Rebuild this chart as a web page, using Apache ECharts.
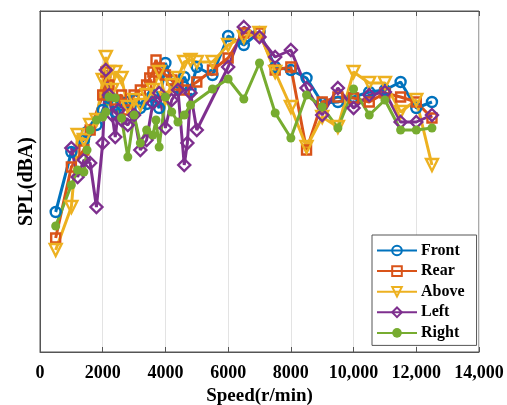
<!DOCTYPE html>
<html>
<head>
<meta charset="utf-8">
<script src="https://cdn.jsdelivr.net/npm/echarts@6/dist/echarts.min.js"></script>
<style>html,body{margin:0;padding:0;background:#fff}#c{width:507px;height:405px}</style>
</head>
<body>
<div id="c"></div>
<script>
// Data (speed in r/min, SPL in dBA)
const seriesNames = ['Front', 'Rear', 'Above', 'Left', 'Right'];
const xTicks = [0, 2000, 4000, 6000, 8000, 10000, 12000, 14000];

const speedFront = [500,1000,1400,1500,1800,2000,2200,2400,2600,2800,3000,3200,3400,3600,3800,4000,4200,4400,4600,4800,5000,5500,6000,6500,7000,7500,8000,8500,9000,9500,10000,10500,11000,11500,12000,12500];
const splFront   = [58.0,70.0,72.4,74.0,75.4,78.4,80.8,78.0,79.4,80.0,80.4,78.8,79.6,81.4,78.8,87.8,84.4,82.8,85.0,82.4,87.0,85.4,93.2,91.4,94.0,87.0,86.4,84.8,79.8,80.0,81.0,82.0,82.4,84.0,78.8,80.0];

const speedRear = [500,1000,1400,1600,2000,2100,2200,2400,2600,2800,3000,3200,3400,3500,3600,3700,3800,4000,4200,4400,4600,5000,5500,6000,6500,7000,7500,8000,8500,9000,9500,10000,10500,11000,11500,12000,12500];
const splRear   = [52.8,67.0,70.4,74.4,81.4,86.0,83.4,80.4,81.4,78.4,81.4,82.4,83.4,84.8,86.0,88.4,86.8,85.4,84.4,83.4,82.4,84.0,86.4,88.8,93.8,93.8,86.4,87.0,70.4,80.0,81.0,80.8,80.0,81.8,81.0,80.0,76.8];

const speedAbove = [500,1000,1200,1400,1600,1800,2000,2100,2200,2300,2400,2600,2800,3000,3200,3400,3600,3800,4000,4200,4400,4600,4800,5000,5500,6000,6500,7000,7500,8000,8500,9000,9500,10000,10500,11000,11500,12000,12500];
const splAbove   = [50.4,59.0,73.4,72.4,75.4,76.4,84.4,89.0,86.0,82.4,86.0,84.8,79.0,80.4,79.4,81.4,82.4,86.0,80.8,83.4,84.8,88.0,88.4,88.0,88.0,91.4,93.0,93.8,86.0,79.0,71.0,77.0,75.0,86.0,83.8,83.8,78.0,80.4,67.4];

const speedLeft = [1000,1200,1400,1600,1800,2000,2100,2200,2300,2400,2500,2600,2800,3000,3200,3400,3600,3800,4000,4200,4400,4600,4700,4800,5000,6000,6500,7000,7500,8000,8500,9000,9500,10000,10500,11000,11500,12000,12500];
const splLeft   = [70.8,65.0,68.4,67.8,59.0,71.8,86.4,81.4,77.4,73.0,78.4,76.4,75.4,77.4,70.4,72.4,79.8,81.8,74.8,80.4,82.4,67.4,71.8,81.8,74.4,87.0,95.0,93.0,89.0,90.4,82.8,77.4,82.8,78.8,81.4,82.0,76.0,76.0,77.4];

const speedRight = [500,1000,1200,1400,1500,1600,1800,2000,2100,2200,2400,2600,2800,3000,3200,3400,3600,3700,3800,4000,4200,4400,4600,4800,5500,6000,6500,7000,7500,8000,8500,9000,9500,10000,10500,11000,11500,12000,12500];
const splRight   = [55.2,63.4,66.4,66.0,70.4,74.4,76.4,77.0,78.0,81.0,80.8,76.8,69.0,77.4,71.8,74.4,73.4,76.4,71.0,81.0,78.0,76.0,77.4,79.4,82.6,84.6,80.6,87.8,77.8,72.8,81.4,79.0,74.8,82.6,77.4,80.4,74.4,74.4,74.8];

const speeds = [speedFront, speedRear, speedAbove, speedLeft, speedRight];
const spls = [splFront, splRear, splAbove, splLeft, splRight];
const colors = ['#0072BD', '#D95319', '#EDB120', '#7E2F8E', '#77AC30'];
const symbols = ['circle', 'rect', 'triangle', 'diamond', 'circle'];
const symbolRot = [0, 0, 180, 0, 0];
const symbolSizes = [10, 9, 12, 12, 9];
const hollow = [true, true, true, true, false];

const font = '"Liberation Serif", "Times New Roman", serif';

const series = seriesNames.map((n, i) => ({
  name: n,
  type: 'line',
  data: speeds[i].map((s, j) => [s, spls[i][j]]),
  symbol: symbols[i],
  symbolRotate: symbolRot[i],
  symbolSize: symbolSizes[i],
  showAllSymbol: true,
  lineStyle: { color: colors[i], width: 3 },
  itemStyle: hollow[i]
    ? { color: 'rgba(255,255,255,0)', borderColor: colors[i], borderWidth: 2.4 }
    : { color: colors[i], borderColor: colors[i], borderWidth: 0 },
  emphasis: { disabled: true },
  animation: false
}));

const chart = echarts.init(document.getElementById('c'), null, { renderer: 'canvas' });
chart.setOption({
  animation: false,
  backgroundColor: '#fff',
  grid: { left: 40, right: 28, top: 11, bottom: 53, show: true, borderColor: '#555', borderWidth: 1, containLabel: false, outerBoundsMode: 'none' },
  xAxis: [{
    type: 'value', min: 0, max: 14000, interval: 2000,
    name: 'Speed(r/min)', nameLocation: 'middle', nameGap: 30,
    nameTextStyle: { fontFamily: font, fontWeight: 'bold', fontSize: 19, color: '#000' },
    axisLine: { show: true, lineStyle: { color: '#555', width: 1 } },
    axisTick: { show: true, inside: true, length: 5, lineStyle: { color: '#555' } },
    axisLabel: {
      fontFamily: font, fontWeight: 'bold', fontSize: 18, color: '#000', margin: 12,
      formatter: v => xTicks.includes(v) ? (v >= 10000 ? v.toLocaleString('en-US') : String(v)) : ''
    },
    splitLine: { show: true, lineStyle: { color: '#e3e3e3', width: 1 } }
  }, {
    type: 'value', position: 'top', min: 0, max: 14000, interval: 2000,
    axisLine: { show: true, lineStyle: { color: '#555' } },
    axisTick: { show: true, inside: true, length: 5, lineStyle: { color: '#555' } },
    axisLabel: { show: false }, splitLine: { show: false }
  }],
  yAxis: {
    type: 'value', min: 30, max: 98.2,
    name: 'SPL(dBA)', nameLocation: 'middle', nameGap: 3,
    nameTextStyle: { fontFamily: font, fontWeight: 'bold', fontSize: 20, color: '#000' },
    axisLine: { show: true, lineStyle: { color: '#555' } },
    axisTick: { show: false }, axisLabel: { show: false }, splitLine: { show: false }
  },
  legend: {
    orient: 'vertical', left: 372, top: 235,
    data: seriesNames,
    itemWidth: 40, itemHeight: 12, itemGap: 3.6,
    padding: [7, 12, 4, 4],
    borderColor: '#555', borderWidth: 1, backgroundColor: '#fff',
    textStyle: { fontFamily: font, fontWeight: 'bold', fontSize: 16, color: '#000', lineHeight: 17, padding: [0, 0, 0, -1] }
  },
  series: series
});
</script>
</body>
</html>
